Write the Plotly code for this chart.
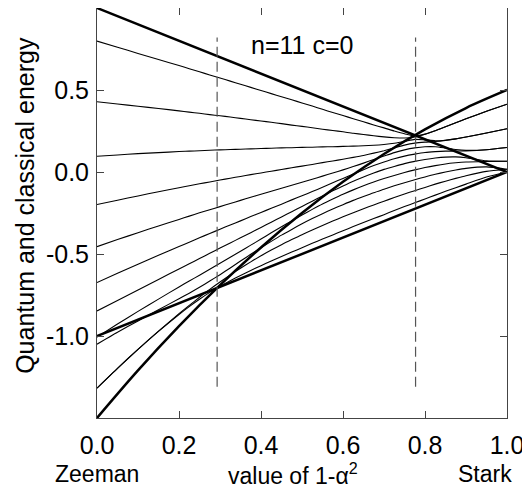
import plotly.graph_objects as go

# horizontal axis: value of 1 - alpha^2
x_vals = [0.0, 0.05, 0.1, 0.15, 0.2, 0.225, 0.25, 0.275, 0.3, 0.325, 0.35, 0.375, 0.4, 0.425,
          0.45, 0.475, 0.5, 0.525, 0.55, 0.575, 0.6, 0.625, 0.65, 0.675, 0.7, 0.725, 0.75,
          0.775, 0.8, 0.825, 0.85, 0.875, 0.9, 0.95, 1.0]

# quantum energy levels (n=11, c=0), lowest to highest
level_0 = [-1.318, -1.198, -1.082, -0.972, -0.869, -0.821, -0.776, -0.734, -0.697, -0.663, -0.631, -0.600,
           -0.571, -0.543, -0.515, -0.488, -0.462, -0.435, -0.409, -0.384, -0.358, -0.333, -0.308, -0.284,
           -0.260, -0.235, -0.211, -0.188, -0.164, -0.141, -0.118, -0.096, -0.074, -0.031, 0.000]
level_1 = [-1.318, -1.197, -1.081, -0.970, -0.864, -0.813, -0.764, -0.716, -0.671, -0.628, -0.587, -0.548,
           -0.511, -0.476, -0.443, -0.412, -0.382, -0.354, -0.326, -0.299, -0.273, -0.248, -0.224, -0.201,
           -0.178, -0.156, -0.134, -0.114, -0.094, -0.074, -0.056, -0.039, -0.023, 0.004, 0.017]
level_2 = [-1.050, -0.977, -0.908, -0.840, -0.773, -0.739, -0.703, -0.665, -0.626, -0.585, -0.543, -0.502,
           -0.462, -0.423, -0.385, -0.350, -0.316, -0.284, -0.254, -0.226, -0.199, -0.173, -0.149, -0.126,
           -0.105, -0.084, -0.065, -0.047, -0.030, -0.014, 0.000, 0.012, 0.022, 0.031, 0.017]
level_3 = [-1.007, -0.927, -0.850, -0.775, -0.701, -0.665, -0.629, -0.593, -0.557, -0.520, -0.483, -0.446,
           -0.409, -0.371, -0.334, -0.298, -0.262, -0.228, -0.195, -0.165, -0.136, -0.109, -0.084, -0.061,
           -0.040, -0.021, -0.003, 0.013, 0.027, 0.039, 0.049, 0.056, 0.061, 0.064, 0.066]
level_4 = [-0.847, -0.784, -0.720, -0.655, -0.591, -0.560, -0.528, -0.496, -0.464, -0.433, -0.401, -0.370,
           -0.338, -0.306, -0.274, -0.242, -0.210, -0.178, -0.146, -0.115, -0.085, -0.056, -0.030, -0.006,
           0.016, 0.034, 0.051, 0.065, 0.076, 0.085, 0.091, 0.092, 0.087, 0.068, 0.066]
level_5 = [-0.674, -0.617, -0.562, -0.508, -0.454, -0.428, -0.401, -0.375, -0.349, -0.323, -0.298, -0.272,
           -0.247, -0.221, -0.196, -0.170, -0.145, -0.119, -0.093, -0.066, -0.039, -0.013, 0.014, 0.039,
           0.061, 0.081, 0.097, 0.109, 0.119, 0.124, 0.127, 0.128, 0.129, 0.136, 0.149]
level_6 = [-0.455, -0.412, -0.370, -0.329, -0.289, -0.269, -0.249, -0.230, -0.211, -0.192, -0.173, -0.154,
           -0.136, -0.117, -0.099, -0.081, -0.062, -0.044, -0.025, -0.006, 0.013, 0.033, 0.054, 0.076,
           0.097, 0.118, 0.135, 0.147, 0.154, 0.154, 0.146, 0.137, 0.132, 0.136, 0.149]
level_7 = [-0.198, -0.172, -0.146, -0.120, -0.096, -0.084, -0.072, -0.061, -0.049, -0.038, -0.027, -0.016,
           -0.006, 0.005, 0.015, 0.026, 0.036, 0.046, 0.057, 0.067, 0.078, 0.089, 0.101, 0.115,
           0.130, 0.147, 0.164, 0.176, 0.182, 0.186, 0.193, 0.202, 0.213, 0.238, 0.264]
level_8 = [0.096, 0.104, 0.112, 0.118, 0.125, 0.127, 0.130, 0.133, 0.135, 0.137, 0.139, 0.141,
           0.143, 0.145, 0.147, 0.148, 0.150, 0.151, 0.153, 0.154, 0.156, 0.158, 0.160, 0.163,
           0.168, 0.175, 0.186, 0.199, 0.196, 0.191, 0.194, 0.202, 0.213, 0.238, 0.264]
level_9 = [0.428, 0.415, 0.401, 0.387, 0.373, 0.365, 0.358, 0.350, 0.343, 0.335, 0.327, 0.319,
           0.311, 0.303, 0.295, 0.286, 0.278, 0.270, 0.261, 0.253, 0.245, 0.236, 0.229, 0.221,
           0.214, 0.209, 0.207, 0.213, 0.230, 0.252, 0.276, 0.300, 0.324, 0.370, 0.413]
level_10 = [0.798, 0.761, 0.723, 0.686, 0.649, 0.630, 0.611, 0.592, 0.573, 0.554, 0.535, 0.516,
            0.497, 0.478, 0.459, 0.440, 0.421, 0.402, 0.382, 0.363, 0.344, 0.325, 0.306, 0.287,
            0.269, 0.250, 0.233, 0.221, 0.231, 0.252, 0.276, 0.300, 0.324, 0.370, 0.413]
quantum_levels = [level_0, level_1, level_2, level_3, level_4, level_5,
                  level_6, level_7, level_8, level_9, level_10]

# classical relative-equilibrium energies
upper_x = [0.0, 1.0]
upper_e = [1.0, 0.0]
lower_x = [0.0, 1.0]
lower_e = [-1.0, 0.0]
curve_x = [0.0, 0.1, 0.2, 0.3, 0.4, 0.5, 0.6, 0.7, 0.8, 0.9, 1.0]
curve_e = [-1.5, -1.21, -0.94, -0.69, -0.46, -0.25, -0.06, 0.11, 0.26, 0.39, 0.5]

# bifurcation markers
bif_x = [0.293, 0.777]
bif_y = [-1.31, 0.82]

x_ticks = [0.0, 0.2, 0.4, 0.6, 0.8, 1.0]
x_tick_text = ["0.0", "0.2", "0.4", "0.6", "0.8", "1.0"]
y_ticks = [-1.0, -0.5, 0.0, 0.5]
y_tick_text = ["-1.0", "-0.5", "0.0", "0.5"]

FONT = "Liberation Sans, Arial, Helvetica, sans-serif"

fig = go.Figure()
for lev in quantum_levels:
    fig.add_trace(go.Scatter(x=x_vals, y=lev, mode="lines",
                             line=dict(color="black", width=1.1, shape="spline", smoothing=0.6),
                             showlegend=False, hoverinfo="skip"))
fig.add_trace(go.Scatter(x=upper_x, y=upper_e, mode="lines", line=dict(color="black", width=2.5),
                         showlegend=False, hoverinfo="skip"))
fig.add_trace(go.Scatter(x=lower_x, y=lower_e, mode="lines", line=dict(color="black", width=2.5),
                         showlegend=False, hoverinfo="skip"))
fig.add_trace(go.Scatter(x=curve_x, y=curve_e, mode="lines", line=dict(color="black", width=2.5, shape="spline"),
                         showlegend=False, hoverinfo="skip"))
for bx in bif_x:
    fig.add_trace(go.Scatter(x=[bx, bx], y=bif_y, mode="lines",
                             line=dict(color="#555555", width=1.2, dash="10px,5px"),
                             showlegend=False, hoverinfo="skip"))

fig.add_annotation(x=0.5, y=0.775, xref="x", yref="y", text="n=11 c=0", showarrow=False,
                   font=dict(family=FONT, size=25, color="black"))
fig.add_annotation(x=-0.174, y=0.519, xref="paper", yref="paper", text="Quantum and classical energy",
                   textangle=-90, showarrow=False, xanchor="center", yanchor="middle",
                   font=dict(family=FONT, size=25, color="black"))
BOTTOM_Y = -0.137
fig.add_annotation(x=0.0, y=BOTTOM_Y, xref="paper", yref="paper", text="Zeeman", showarrow=False,
                   xanchor="center", yanchor="middle", font=dict(family=FONT, size=23, color="black"))
fig.add_annotation(x=0.478, y=BOTTOM_Y, xref="paper", yref="paper", text="value of 1-α<sup>2</sup>",
                   showarrow=False, xanchor="center", yanchor="middle",
                   font=dict(family=FONT, size=23, color="black"))
fig.add_annotation(x=0.946, y=BOTTOM_Y, xref="paper", yref="paper", text="Stark", showarrow=False,
                   xanchor="center", yanchor="middle", font=dict(family=FONT, size=23, color="black"))

fig.update_layout(width=522, height=480, margin=dict(l=89, r=23, t=0, b=70),
                  plot_bgcolor="white", paper_bgcolor="white",
                  font=dict(family=FONT, size=25, color="black"))
fig.update_xaxes(range=[0, 1], showline=True, linecolor="#444444", linewidth=1, mirror="ticks",
                 ticks="inside", ticklen=7, tickcolor="#444444", tickvals=x_ticks, ticktext=x_tick_text,
                 ticklabelstandoff=5, showgrid=False, zeroline=False)
fig.update_yaxes(range=[-1.5, 1.0], showline=True, linecolor="#444444", linewidth=1, mirror="ticks",
                 ticks="inside", ticklen=7, tickcolor="#444444", tickvals=y_ticks, ticktext=y_tick_text,
                 ticklabelstandoff=2, showgrid=False, zeroline=False)
fig.write_html("out.html")
